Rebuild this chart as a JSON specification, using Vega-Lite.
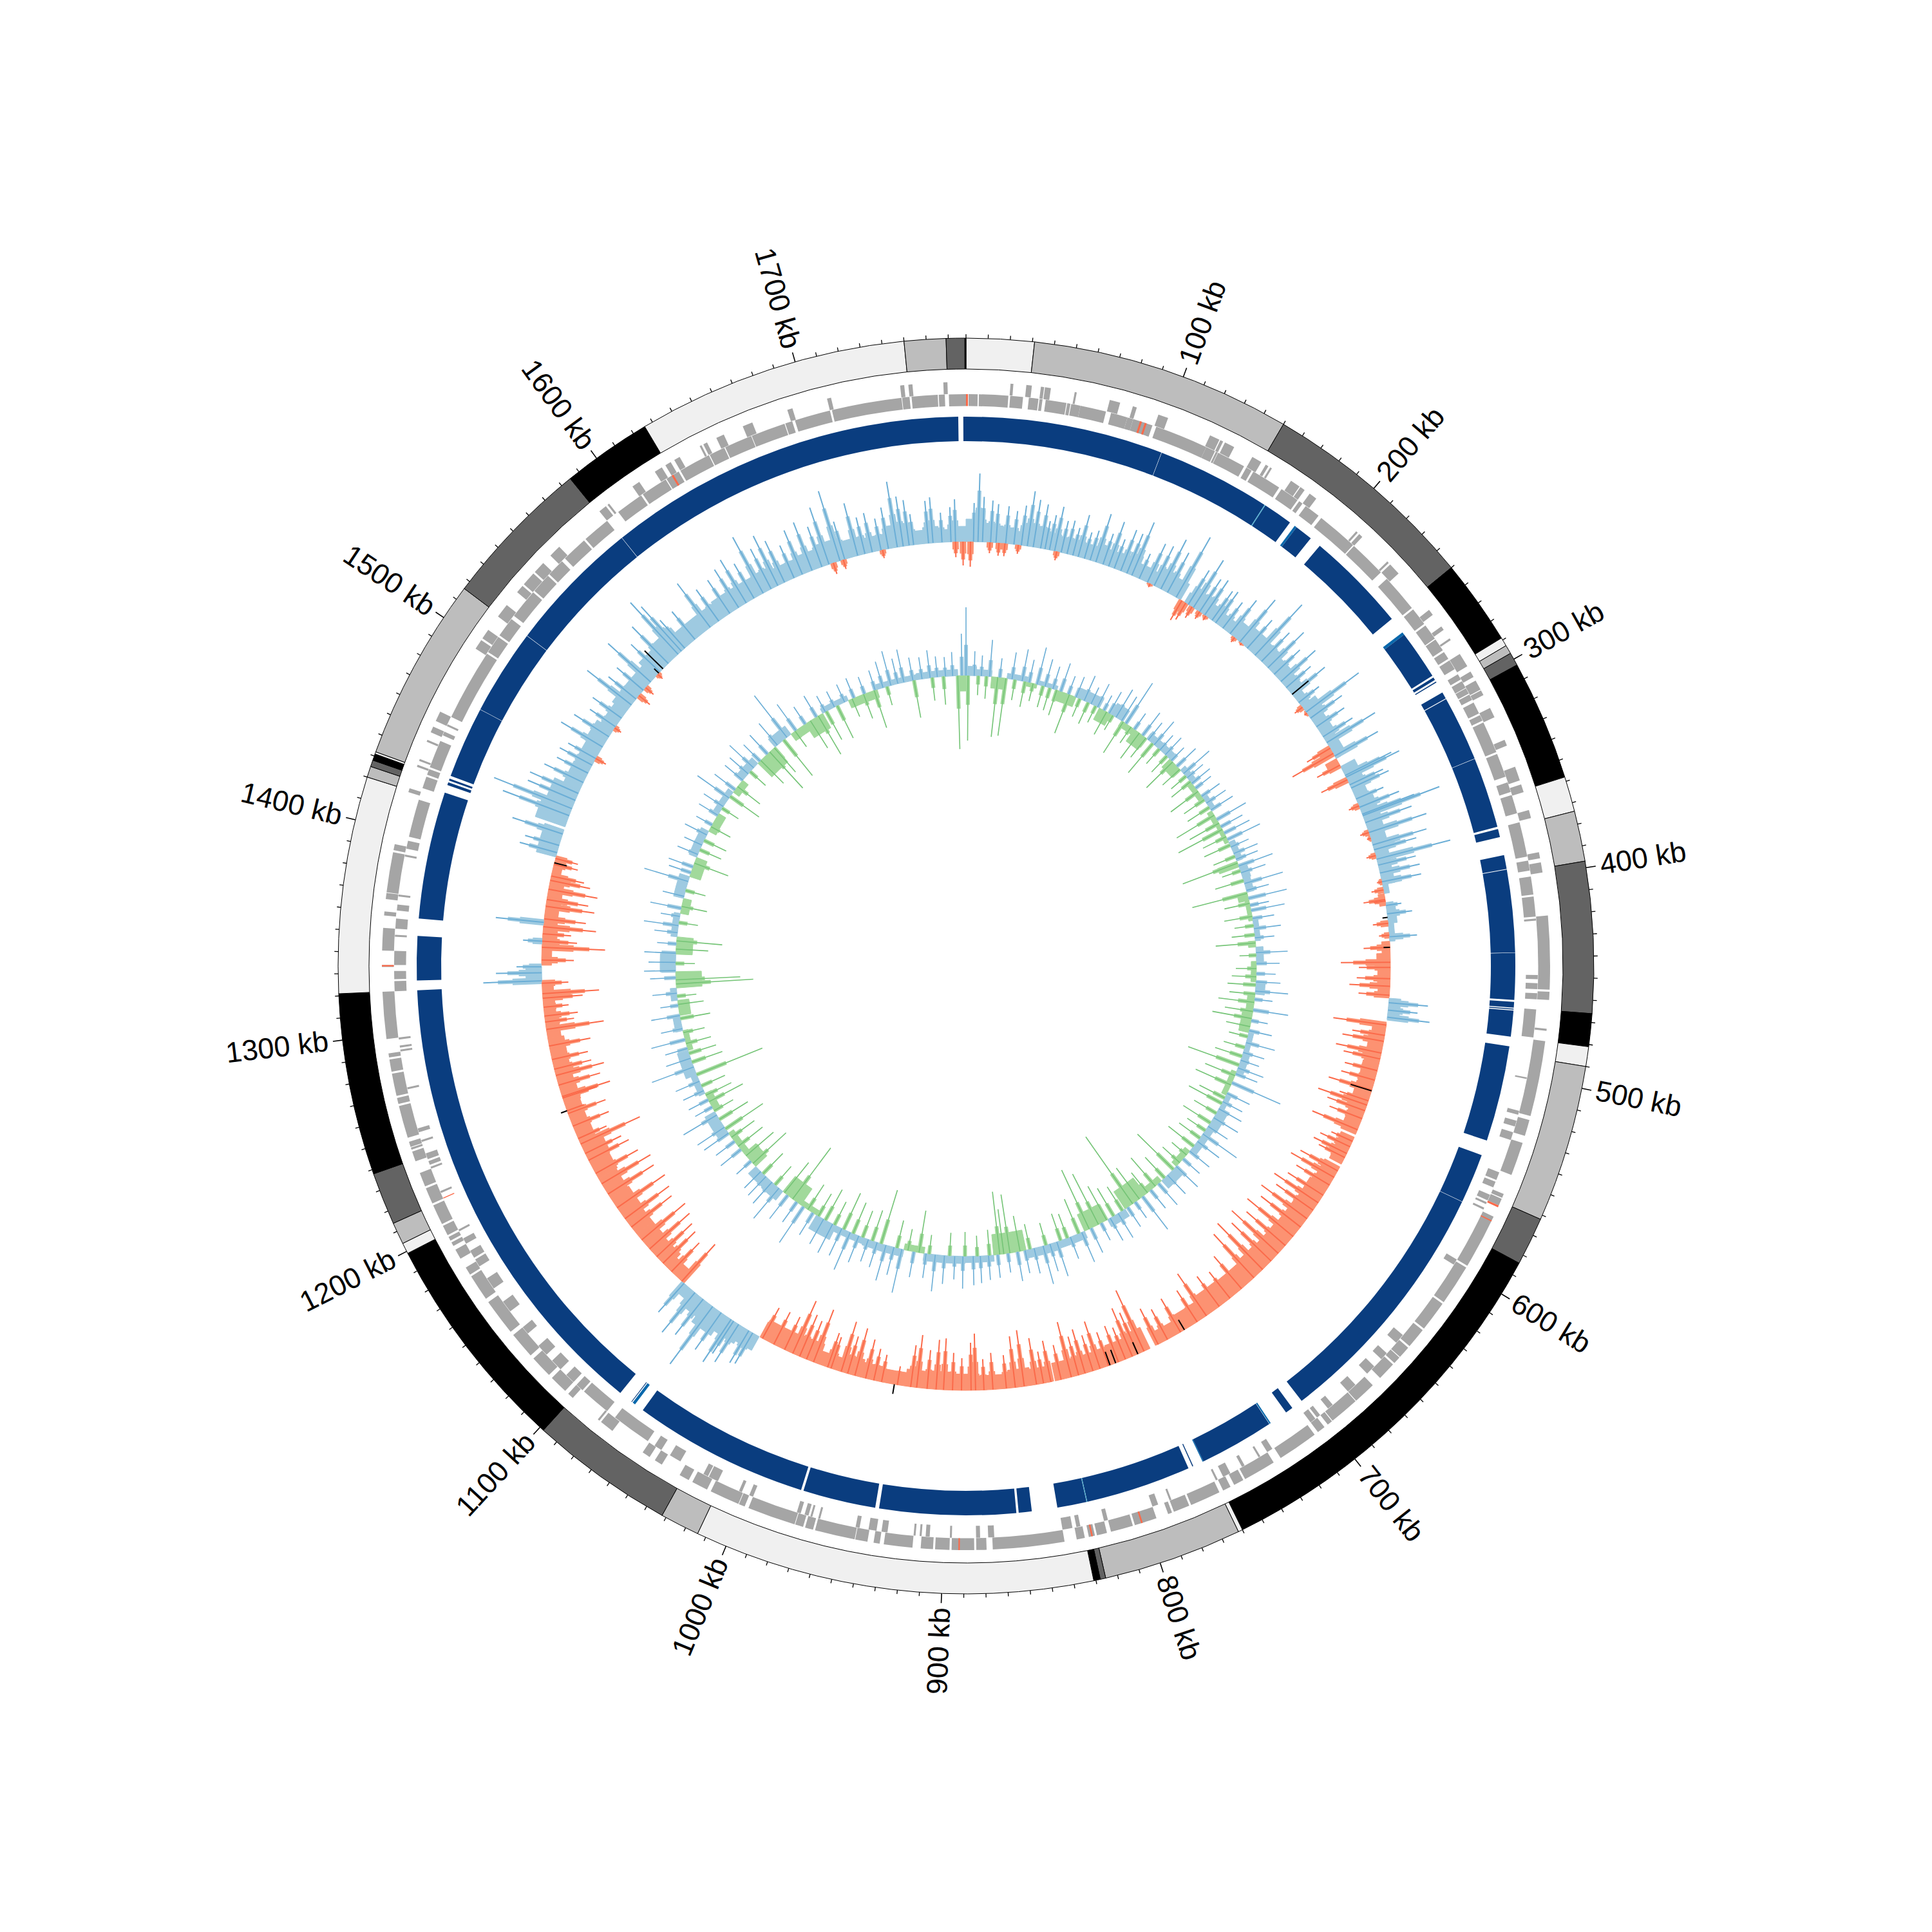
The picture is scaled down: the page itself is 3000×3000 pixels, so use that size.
{"$schema":"https://vega.github.io/schema/vega-lite/v6.json","width":3000,"height":3000,"padding":0,"autosize":{"type":"fit","contains":"padding"},"background":"white","view":{"stroke":null},
"datasets":{
"ring":[{"a":0,"b":31,"c":"l"},{"a":31,"b":150,"c":"g"},{"a":150,"b":250,"c":"d"},{"a":250,"b":289,"c":"k"},{"a":289,"b":293,"c":"l"},{"a":293,"b":297,"c":"g"},{"a":297,"b":303,"c":"d"},{"a":303,"b":358,"c":"k"},{"a":358,"b":374,"c":"l"},{"a":374,"b":397,"c":"g"},{"a":397,"b":466,"c":"d"},{"a":466,"b":481,"c":"k"},{"a":481,"b":490,"c":"l"},{"a":490,"b":562,"c":"g"},{"a":562,"b":584,"c":"d"},{"a":584,"b":760,"c":"k"},{"a":760,"b":762,"c":"l"},{"a":762,"b":825.5,"c":"g"},{"a":825.5,"b":828,"c":"d"},{"a":828,"b":831,"c":"k"},{"a":831,"b":1014,"c":"l"},{"a":1014,"b":1032,"c":"g"},{"a":1032,"b":1098,"c":"d"},{"a":1098,"b":1199,"c":"k"},{"a":1199,"b":1204,"c":"l"},{"a":1204,"b":1214,"c":"g"},{"a":1214,"b":1238,"c":"d"},{"a":1238,"b":1321,"c":"k"},{"a":1321,"b":1420,"c":"l"},{"a":1420,"b":1425,"c":"g"},{"a":1425,"b":1428,"c":"d"},{"a":1428,"b":1431,"c":"k"},{"a":1431,"b":1432,"c":"l"},{"a":1432,"b":1516,"c":"g"},{"a":1516,"b":1585,"c":"d"},{"a":1585,"b":1626,"c":"k"},{"a":1626,"b":1750,"c":"l"},{"a":1750,"b":1769,"c":"g"},{"a":1769,"b":1777.5,"c":"d"},{"a":1777.5,"b":1778,"c":"k"}],
"band":[{"a":1776.6,"b":1778,"c":"b"},{"a":0,"b":102.9,"c":"b"},{"a":103.1,"b":162.6,"c":"b"},{"a":162.6,"b":163.1,"c":"t"},{"a":163.1,"b":178.5,"c":"b"},{"a":181.5,"b":182.7,"c":"m"},{"a":182.7,"b":192,"c":"b"},{"a":198,"b":251,"c":"b"},{"a":259.8,"b":261.3,"c":"m"},{"a":261.3,"b":287,"c":"b"},{"a":288,"b":289.5,"c":"b"},{"a":290.5,"b":291,"c":"b"},{"a":297,"b":300.5,"c":"b"},{"a":300.9,"b":334.9,"c":"b"},{"a":335.1,"b":372,"c":"b"},{"a":373.2,"b":377.4,"c":"b"},{"a":387,"b":394.2,"c":"b"},{"a":394.6,"b":437.5,"c":"b"},{"a":437.7,"b":462,"c":"b"},{"a":463,"b":466,"c":"b"},{"a":466.5,"b":467,"c":"b"},{"a":467.5,"b":481,"c":"b"},{"a":486,"b":536,"c":"b"},{"a":544,"b":569.9,"c":"b"},{"a":570.1,"b":703,"c":"b"},{"a":709,"b":713,"c":"b"},{"a":722.6,"b":723.3,"c":"m"},{"a":723.5,"b":762.5,"c":"b"},{"a":762.5,"b":763,"c":"m"},{"a":768.3,"b":768.8,"c":"b"},{"a":771,"b":826,"c":"b"},{"a":826,"b":826.4,"c":"t"},{"a":826.4,"b":841.7,"c":"b"},{"a":855,"b":861.8,"c":"b"},{"a":863,"b":934,"c":"b"},{"a":936,"b":974,"c":"b"},{"a":975.3,"b":1067,"c":"b"},{"a":1072,"b":1073.5,"c":"m"},{"a":1074,"b":1074.4,"c":"b"},{"a":1081.6,"b":1321,"c":"b"},{"a":1326,"b":1349,"c":"b"},{"a":1358,"b":1424.4,"c":"b"},{"a":1428.5,"b":1430,"c":"b"},{"a":1431,"b":1432,"c":"b"},{"a":1433.5,"b":1470.9,"c":"b"},{"a":1471.1,"b":1515.9,"c":"b"},{"a":1516.1,"b":1586.3,"c":"b"},{"a":1586.5,"b":1774,"c":"b"}],
"geneIn":[{"a":1.3,"b":5.8},{"a":6.4,"b":21},{"a":21.9,"b":28.3},{"a":31.2,"b":36},{"a":36.5,"b":38},{"a":39.6,"b":50},{"a":50.4,"b":52},{"a":52.4,"b":57},{"a":57,"b":70},{"a":72.6,"b":81},{"a":81,"b":84},{"a":84,"b":94},{"a":96,"b":122.7},{"a":122.7,"b":127.5},{"a":128,"b":129},{"a":129.2,"b":143.7},{"a":145,"b":148},{"a":149,"b":164},{"a":165.4,"b":175},{"a":176,"b":178},{"a":180,"b":188},{"a":189.7,"b":210.4},{"a":211,"b":229.7},{"a":234,"b":253},{"a":254,"b":263},{"a":264,"b":272},{"a":272.5,"b":279},{"a":280,"b":284},{"a":285,"b":290},{"a":293,"b":296},{"a":297,"b":300.7},{"a":301,"b":304},{"a":304.5,"b":307.5},{"a":309,"b":315},{"a":316,"b":319},{"a":320,"b":336},{"a":337,"b":349},{"a":352,"b":357},{"a":358.6,"b":368},{"a":372.6,"b":390},{"a":392,"b":397},{"a":400,"b":409},{"a":410,"b":420},{"a":421,"b":422},{"a":449,"b":451},{"a":453,"b":456},{"a":458,"b":461},{"a":466,"b":480},{"a":500,"b":500.8},{"a":517,"b":519},{"a":522,"b":525},{"a":528,"b":532},{"a":549,"b":553},{"a":554,"b":557},{"a":561,"b":564},{"a":565,"b":566},{"a":568,"b":569},{"a":597,"b":600},{"a":643,"b":648},{"a":655,"b":659},{"a":664,"b":669},{"a":677,"b":682},{"a":692,"b":695},{"a":700,"b":702},{"a":703,"b":706},{"a":729,"b":732},{"a":736,"b":737},{"a":745,"b":746.5},{"a":753,"b":757},{"a":760,"b":761},{"a":785,"b":786},{"a":792,"b":795},{"a":818,"b":820},{"a":832,"b":834},{"a":836,"b":841},{"a":875,"b":878},{"a":882,"b":884},{"a":896,"b":897},{"a":907,"b":909},{"a":911,"b":912},{"a":914,"b":915},{"a":928,"b":931},{"a":933.5,"b":937.5},{"a":942,"b":944},{"a":962,"b":963},{"a":966,"b":967},{"a":968,"b":970},{"a":972,"b":974},{"a":997,"b":999},{"a":1003,"b":1004.5},{"a":1016,"b":1021},{"a":1021.5,"b":1024},{"a":1037,"b":1043},{"a":1048,"b":1052},{"a":1056,"b":1076},{"a":1081,"b":1096},{"a":1097,"b":1101},{"a":1103,"b":1108},{"a":1112,"b":1118},{"a":1122,"b":1128},{"a":1136,"b":1140},{"a":1150,"b":1156},{"a":1164,"b":1170},{"a":1177,"b":1181},{"a":1182,"b":1186},{"a":1190,"b":1193},{"a":1197,"b":1198},{"a":1218,"b":1219},{"a":1231,"b":1232},{"a":1233,"b":1235},{"a":1236,"b":1239},{"a":1245,"b":1246},{"a":1250,"b":1252},{"a":1272,"b":1273},{"a":1291,"b":1292},{"a":1293,"b":1294},{"a":1297,"b":1298},{"a":1321,"b":1326},{"a":1327,"b":1331},{"a":1334,"b":1341},{"a":1348,"b":1349},{"a":1352,"b":1357},{"a":1361,"b":1364},{"a":1368,"b":1369},{"a":1388,"b":1389},{"a":1392,"b":1396},{"a":1398,"b":1417},{"a":1423,"b":1429},{"a":1430,"b":1433},{"a":1434,"b":1448},{"a":1451,"b":1453},{"a":1456,"b":1457},{"a":1461,"b":1497},{"a":1498,"b":1507},{"a":1508,"b":1518},{"a":1520,"b":1535},{"a":1536,"b":1546},{"a":1547,"b":1556},{"a":1558,"b":1571},{"a":1572,"b":1586},{"a":1593,"b":1607},{"a":1608,"b":1621.5},{"a":1622,"b":1629},{"a":1630,"b":1646},{"a":1646.5,"b":1654.5},{"a":1655,"b":1669},{"a":1669.3,"b":1686.6},{"a":1687,"b":1690.6},{"a":1692,"b":1710},{"a":1711,"b":1746},{"a":1746.3,"b":1750},{"a":1751,"b":1764},{"a":1764.5,"b":1767.5},{"a":1769.5,"b":1778},{"a":0,"b":1,"c":"r"},{"a":87.5,"b":88.5,"c":"r"},{"a":90,"b":91,"c":"r"},{"a":1215,"b":1215.5,"c":"r"},{"a":1625,"b":1626,"c":"r"}],
"geneOut":[{"a":21.6,"b":23},{"a":29.3,"b":32},{"a":36.4,"b":38},{"a":38.4,"b":41.3},{"a":53,"b":54},{"a":70.4,"b":75.6},{"a":82,"b":84},{"a":95,"b":100},{"a":122,"b":127},{"a":127.5,"b":129},{"a":130,"b":135},{"a":145,"b":150},{"a":152.5,"b":154},{"a":155,"b":156},{"a":167,"b":172},{"a":172.5,"b":175},{"a":178,"b":182},{"a":207,"b":208},{"a":209,"b":211},{"a":228,"b":229},{"a":230,"b":236},{"a":259,"b":262},{"a":269,"b":271},{"a":276,"b":277},{"a":285,"b":292},{"a":295,"b":298},{"a":300,"b":305},{"a":305.4,"b":308},{"a":315,"b":320},{"a":332,"b":335},{"a":346,"b":353},{"a":355,"b":359},{"a":368,"b":372},{"a":389,"b":392},{"a":394,"b":399},{"a":420,"b":456},{"a":457,"b":461},{"a":475,"b":476},{"a":481,"b":518},{"a":520,"b":528},{"a":531.6,"b":548},{"a":558,"b":560},{"a":560.5,"b":564},{"a":570,"b":597},{"a":598,"b":618},{"a":619,"b":634},{"a":635,"b":645},{"a":646,"b":652},{"a":652.4,"b":656},{"a":657,"b":666},{"a":671,"b":682},{"a":682.4,"b":697},{"a":697.4,"b":700},{"a":702,"b":706},{"a":708,"b":728},{"a":732,"b":748},{"a":749,"b":754},{"a":756,"b":760},{"a":762,"b":777},{"a":778,"b":786},{"a":787,"b":789},{"a":795,"b":806},{"a":807,"b":818},{"a":820,"b":825},{"a":826,"b":829},{"a":831,"b":835},{"a":841,"b":876},{"a":879,"b":884},{"a":885,"b":889},{"a":889,"b":896},{"a":897,"b":904},{"a":905,"b":911},{"a":915,"b":929},{"a":931,"b":934},{"a":937,"b":943},{"a":943.3,"b":963},{"a":964,"b":968},{"a":969,"b":973},{"a":973.3,"b":997},{"a":999,"b":1002},{"a":1002.3,"b":1017},{"a":1019,"b":1027},{"a":1029,"b":1034},{"a":1044,"b":1048},{"a":1051,"b":1055},{"a":1073,"b":1080},{"a":1081,"b":1082},{"a":1098,"b":1101},{"a":1103,"b":1112},{"a":1114,"b":1125},{"a":1127,"b":1140},{"a":1142,"b":1160},{"a":1162,"b":1175},{"a":1176,"b":1180},{"a":1185,"b":1190},{"a":1192,"b":1194},{"a":1195,"b":1197},{"a":1198,"b":1203},{"a":1204,"b":1214},{"a":1215,"b":1223},{"a":1224,"b":1231},{"a":1237,"b":1242},{"a":1243,"b":1244},{"a":1244.4,"b":1247},{"a":1249,"b":1265},{"a":1266,"b":1269},{"a":1270,"b":1281},{"a":1282,"b":1288},{"a":1289,"b":1291},{"a":1298,"b":1321},{"a":1333,"b":1334},{"a":1341,"b":1352},{"a":1358,"b":1360},{"a":1366,"b":1369},{"a":1369.3,"b":1389},{"a":1390,"b":1393},{"a":1419,"b":1421},{"a":1432,"b":1433},{"a":1435,"b":1436},{"a":1445,"b":1446},{"a":1450,"b":1453},{"a":1456,"b":1461},{"a":1496,"b":1501},{"a":1502,"b":1507},{"a":1515,"b":1522},{"a":1530,"b":1534},{"a":1535,"b":1542},{"a":1543,"b":1549},{"a":1554,"b":1560},{"a":1586,"b":1590},{"a":1591,"b":1592},{"a":1606,"b":1610},{"a":1619,"b":1623},{"a":1625,"b":1628},{"a":1630,"b":1633},{"a":1644,"b":1645},{"a":1646,"b":1648},{"a":1653,"b":1657},{"a":1667,"b":1672},{"a":1690,"b":1692.6},{"a":1710,"b":1712},{"a":1746,"b":1748},{"a":1750,"b":1752},{"a":1767,"b":1769},{"a":564,"b":565,"c":"r"},{"a":572,"b":572.6,"c":"r"},{"a":802,"b":802.8,"c":"r"},{"a":827,"b":827.8,"c":"r"},{"a":892,"b":892.7,"c":"r"},{"a":1333.3,"b":1334,"c":"r"}],
"f3":[{"a":0,"b":6,"v":50},{"a":6,"b":12,"v":70},{"a":12,"b":18,"v":42},{"a":18,"b":24,"v":38},{"a":24,"b":30,"v":36},{"a":30,"b":36,"v":30},{"a":36,"b":44,"v":50},{"a":44,"b":50,"v":48},{"a":50,"b":56,"v":40},{"a":56,"b":62,"v":38},{"a":62,"b":70,"v":32},{"a":70,"b":78,"v":36},{"a":78,"b":86,"v":34},{"a":86,"b":92,"v":42},{"a":92,"b":100,"v":36},{"a":100,"b":108,"v":38},{"a":108,"b":116,"v":48},{"a":116,"b":124,"v":32},{"a":124,"b":130,"v":30},{"a":130,"b":140,"v":45},{"a":140,"b":150,"v":40},{"a":150,"b":153,"v":-15},{"a":153,"b":160,"v":25},{"a":160,"b":170,"v":40},{"a":170,"b":180,"v":32},{"a":180,"b":190,"v":28},{"a":190,"b":200,"v":38},{"a":200,"b":212,"v":45},{"a":212,"b":224,"v":42},{"a":224,"b":236,"v":35},{"a":236,"b":248,"v":32},{"a":248,"b":258,"v":22},{"a":258,"b":270,"v":38},{"a":270,"b":285,"v":30},{"a":285,"b":296,"v":26},{"a":296,"b":300,"v":12},{"a":300,"b":306,"v":-28},{"a":306,"b":318,"v":35},{"a":318,"b":330,"v":30},{"a":330,"b":345,"v":38},{"a":345,"b":356,"v":36},{"a":356,"b":368,"v":34},{"a":368,"b":378,"v":30},{"a":378,"b":390,"v":28},{"a":390,"b":396,"v":12},{"a":396,"b":404,"v":-14},{"a":404,"b":416,"v":20},{"a":416,"b":428,"v":12},{"a":428,"b":436,"v":-18},{"a":436,"b":446,"v":-30},{"a":446,"b":456,"v":-28},{"a":456,"b":465,"v":-26},{"a":466,"b":480,"v":26},{"a":483,"b":495,"v":-30},{"a":495,"b":510,"v":-34},{"a":510,"b":525,"v":-36},{"a":525,"b":540,"v":-38},{"a":540,"b":560,"v":-36},{"a":562,"b":575,"v":-32},{"a":575,"b":582,"v":-30},{"a":584,"b":600,"v":-38},{"a":600,"b":620,"v":-46},{"a":620,"b":640,"v":-48},{"a":640,"b":660,"v":-50},{"a":660,"b":680,"v":-52},{"a":680,"b":700,"v":-48},{"a":700,"b":720,"v":-50},{"a":720,"b":740,"v":-40},{"a":740,"b":756,"v":-30},{"a":762,"b":775,"v":-52},{"a":775,"b":790,"v":-45},{"a":790,"b":800,"v":-42},{"a":800,"b":815,"v":-40},{"a":815,"b":829,"v":-40},{"a":831,"b":845,"v":-36},{"a":845,"b":860,"v":-40},{"a":860,"b":880,"v":-32},{"a":880,"b":900,"v":-36},{"a":900,"b":915,"v":-40},{"a":915,"b":930,"v":-38},{"a":930,"b":945,"v":-30},{"a":945,"b":960,"v":-34},{"a":960,"b":975,"v":-40},{"a":975,"b":990,"v":-30},{"a":990,"b":1010,"v":-46},{"a":1010,"b":1032,"v":-44},{"a":1033,"b":1045,"v":35},{"a":1045,"b":1060,"v":42},{"a":1060,"b":1075,"v":55},{"a":1075,"b":1088,"v":40},{"a":1088,"b":1094,"v":25},{"a":1096,"b":1110,"v":-30},{"a":1110,"b":1125,"v":-42},{"a":1125,"b":1140,"v":-45},{"a":1140,"b":1155,"v":-45},{"a":1155,"b":1170,"v":-48},{"a":1170,"b":1185,"v":-45},{"a":1185,"b":1198,"v":-48},{"a":1198,"b":1212,"v":-52},{"a":1212,"b":1225,"v":-38},{"a":1225,"b":1240,"v":-36},{"a":1240,"b":1255,"v":-38},{"a":1255,"b":1270,"v":-36},{"a":1270,"b":1285,"v":-36},{"a":1285,"b":1300,"v":-30},{"a":1300,"b":1315,"v":-26},{"a":1315,"b":1323,"v":-25},{"a":1324,"b":1333,"v":35},{"a":1334,"b":1345,"v":-22},{"a":1345,"b":1360,"v":-32},{"a":1360,"b":1375,"v":-30},{"a":1375,"b":1390,"v":-32},{"a":1390,"b":1404,"v":-20},{"a":1407,"b":1426,"v":45},{"a":1428,"b":1440,"v":70},{"a":1440,"b":1455,"v":62},{"a":1455,"b":1470,"v":40},{"a":1470,"b":1485,"v":38},{"a":1485,"b":1500,"v":42},{"a":1500,"b":1515,"v":32},{"a":1515,"b":1530,"v":38},{"a":1530,"b":1545,"v":38},{"a":1545,"b":1560,"v":48},{"a":1560,"b":1575,"v":55},{"a":1575,"b":1590,"v":40},{"a":1590,"b":1605,"v":40},{"a":1605,"b":1620,"v":44},{"a":1620,"b":1635,"v":44},{"a":1635,"b":1650,"v":46},{"a":1650,"b":1665,"v":38},{"a":1665,"b":1680,"v":42},{"a":1680,"b":1695,"v":50},{"a":1695,"b":1710,"v":40},{"a":1710,"b":1725,"v":34},{"a":1725,"b":1740,"v":50},{"a":1740,"b":1750,"v":30},{"a":1750,"b":1760,"v":36},{"a":1760,"b":1768,"v":28},{"a":1770,"b":1778,"v":34}],
"s3":[{"k":8,"v":106},{"k":5,"v":60},{"k":11,"v":70},{"k":16.4,"v":65},{"k":20,"v":60},{"k":26.5,"v":58},{"k":32,"v":52},{"k":37,"v":62},{"k":41,"v":86},{"k":45,"v":74},{"k":50,"v":69},{"k":53,"v":44},{"k":56,"v":55},{"k":59.5,"v":70},{"k":64,"v":50},{"k":68,"v":53},{"k":72,"v":44},{"k":75.7,"v":67},{"k":80,"v":42},{"k":84,"v":48},{"k":88,"v":78},{"k":93,"v":50},{"k":97,"v":73},{"k":101,"v":48},{"k":105.6,"v":68},{"k":110,"v":66},{"k":113.6,"v":89},{"k":119,"v":42},{"k":125,"v":66},{"k":130,"v":68},{"k":135,"v":86},{"k":140,"v":70},{"k":146.6,"v":107},{"k":156,"v":62},{"k":160,"v":87},{"k":165,"v":60},{"k":169,"v":65},{"k":175,"v":55},{"k":178,"v":59},{"k":184,"v":50},{"k":190,"v":66},{"k":198.5,"v":85},{"k":205,"v":58},{"k":212,"v":107},{"k":218,"v":62},{"k":224,"v":78},{"k":230,"v":55},{"k":236.6,"v":72},{"k":242,"v":50},{"k":248,"v":66},{"k":255,"v":40},{"k":263,"v":102},{"k":268,"v":60},{"k":275,"v":52},{"k":283,"v":54},{"k":287.6,"v":88},{"k":298,"v":77},{"k":312.7,"v":80},{"k":314,"v":92},{"k":319.7,"v":57},{"k":322,"v":64},{"k":330,"v":46},{"k":336,"v":66},{"k":342,"v":127},{"k":341,"v":86},{"k":347,"v":76},{"k":354,"v":94},{"k":362.6,"v":87},{"k":366,"v":68},{"k":372.5,"v":118},{"k":376.6,"v":60},{"k":382,"v":63},{"k":388,"v":62},{"k":404,"v":24},{"k":409.6,"v":39},{"k":425,"v":43},{"k":469,"v":61},{"k":474,"v":46},{"k":478.7,"v":66},{"k":1038,"v":55},{"k":1041,"v":58},{"k":1049,"v":69},{"k":1053,"v":60},{"k":1055,"v":79},{"k":1063,"v":70},{"k":1070,"v":111},{"k":1078,"v":70},{"k":1085,"v":80},{"k":1094.6,"v":60},{"k":1323.6,"v":91},{"k":1329,"v":71},{"k":1333,"v":39},{"k":1362.6,"v":75},{"k":1350,"v":30},{"k":1423,"v":82},{"k":1415,"v":55},{"k":1410,"v":60},{"k":1436,"v":110},{"k":1441,"v":130},{"k":1447,"v":80},{"k":1452,"v":82},{"k":1460,"v":67},{"k":1467,"v":54},{"k":1473,"v":57},{"k":1478,"v":49},{"k":1487,"v":75},{"k":1495,"v":64},{"k":1503,"v":48},{"k":1510,"v":55},{"k":1521,"v":87},{"k":1526,"v":55},{"k":1533.6,"v":54},{"k":1541,"v":89},{"k":1550,"v":62},{"k":1558,"v":80},{"k":1567,"v":109},{"k":1570,"v":93},{"k":1573,"v":58},{"k":1582,"v":56},{"k":1595,"v":85},{"k":1602,"v":60},{"k":1611,"v":62},{"k":1618,"v":70},{"k":1624,"v":78},{"k":1630,"v":62},{"k":1637,"v":99},{"k":1643,"v":70},{"k":1648,"v":86},{"k":1653,"v":71},{"k":1660,"v":55},{"k":1666,"v":74},{"k":1673,"v":80},{"k":1680,"v":66},{"k":1685,"v":93},{"k":1692.7,"v":113},{"k":1696,"v":61},{"k":1705,"v":84},{"k":1710,"v":58},{"k":1715,"v":62},{"k":1721,"v":50},{"k":1726,"v":65},{"k":1732,"v":103},{"k":1736,"v":78},{"k":1740,"v":71},{"k":1743,"v":48},{"k":1753,"v":66},{"k":1756,"v":71},{"k":1762,"v":46},{"k":1768,"v":54},{"k":1771,"v":66},{"k":3,"v":-39},{"k":16,"v":-17},{"k":22,"v":-20},{"k":26,"v":-20},{"k":35,"v":-14},{"k":61,"v":-14},{"k":127,"v":-6},{"k":151,"v":-35},{"k":154,"v":-30},{"k":159,"v":-20},{"k":165,"v":-13},{"k":170,"v":-8},{"k":194,"v":-9},{"k":200,"v":-4},{"k":259,"v":-15},{"k":264,"v":-5},{"k":292,"v":-42},{"k":296,"v":-73},{"k":305,"v":-40},{"k":316,"v":-45},{"k":335,"v":-17},{"k":354,"v":-14},{"k":358,"v":-6},{"k":370,"v":-15},{"k":388,"v":-8},{"k":393.5,"v":-19},{"k":400,"v":-34},{"k":401,"v":-18},{"k":416,"v":-24},{"k":424,"v":-16},{"k":432,"v":-41},{"k":442,"v":-77},{"k":445.5,"v":-49},{"k":453,"v":-52},{"k":458,"v":-63},{"k":464,"v":-48},{"k":484,"v":-83},{"k":491,"v":-51},{"k":495,"v":-65},{"k":503,"v":-72},{"k":507,"v":-58},{"k":515,"v":-52},{"k":521.6,"v":-54},{"k":528.5,"v":-70},{"k":536,"v":-47},{"k":539,"v":-80},{"k":543,"v":-62},{"k":548.6,"v":-54},{"k":556.6,"v":-76},{"k":565,"v":-36},{"k":569,"v":-51},{"k":574,"v":-57},{"k":577,"v":-45},{"k":587,"v":-66},{"k":592,"v":-77},{"k":598,"v":-60},{"k":606,"v":-65},{"k":612,"v":-82},{"k":618,"v":-70},{"k":625,"v":-88},{"k":632,"v":-78},{"k":640,"v":-92},{"k":648,"v":-80},{"k":655,"v":-98},{"k":662,"v":-85},{"k":670,"v":-100},{"k":678,"v":-92},{"k":689,"v":-66},{"k":699,"v":-52},{"k":708,"v":-58},{"k":718.6,"v":-79},{"k":726,"v":-58},{"k":739,"v":-60},{"k":749,"v":-53},{"k":756,"v":-62},{"k":766.5,"v":-104},{"k":771,"v":-70},{"k":775,"v":-81},{"k":780,"v":-53},{"k":785,"v":-60},{"k":792,"v":-55},{"k":798,"v":-77},{"k":803,"v":-58},{"k":808.5,"v":-71},{"k":813,"v":-62},{"k":818,"v":-88},{"k":825,"v":-55},{"k":832,"v":-65},{"k":837,"v":-50},{"k":841.7,"v":-73},{"k":850,"v":-88},{"k":856,"v":-80},{"k":862,"v":-52},{"k":871,"v":-57},{"k":877,"v":-48},{"k":882.6,"v":-88},{"k":885.6,"v":-74},{"k":892,"v":-50},{"k":898,"v":-58},{"k":904,"v":-80},{"k":909,"v":-77},{"k":915,"v":-60},{"k":922,"v":-82},{"k":926,"v":-65},{"k":935,"v":-29},{"k":945.7,"v":-43},{"k":951,"v":-50},{"k":956.6,"v":-62},{"k":964,"v":-76},{"k":969,"v":-60},{"k":973.5,"v":-81},{"k":980.6,"v":-51},{"k":983,"v":-56},{"k":993,"v":-87},{"k":998,"v":-64},{"k":1003,"v":-70},{"k":1008,"v":-89},{"k":1014,"v":-56},{"k":1022,"v":-56},{"k":1030.5,"v":-54},{"k":1096.6,"v":-77},{"k":1106,"v":-62},{"k":1114,"v":-70},{"k":1120,"v":-75},{"k":1127,"v":-83},{"k":1135,"v":-88},{"k":1146,"v":-79},{"k":1153,"v":-85},{"k":1162,"v":-90},{"k":1173,"v":-84},{"k":1181,"v":-88},{"k":1189,"v":-75},{"k":1199,"v":-70},{"k":1204,"v":-62},{"k":1211,"v":-101},{"k":1215,"v":-48},{"k":1224,"v":-60},{"k":1233,"v":-62},{"k":1235,"v":-28},{"k":1244,"v":-56},{"k":1245,"v":-78},{"k":1253,"v":-67},{"k":1259.7,"v":-77},{"k":1264,"v":-59},{"k":1270.6,"v":-57},{"k":1279.8,"v":-65},{"k":1291,"v":-90},{"k":1296,"v":-45},{"k":1300,"v":-52},{"k":1306,"v":-39},{"k":1312,"v":-62},{"k":1315,"v":-88},{"k":1322,"v":-41},{"k":1337.5,"v":-50},{"k":1346,"v":-98},{"k":1350,"v":-54},{"k":1355,"v":-44},{"k":1359.7,"v":-82},{"k":1365,"v":-65},{"k":1373.5,"v":-76},{"k":1378,"v":-65},{"k":1385,"v":-77},{"k":1391,"v":-63},{"k":1394,"v":-52},{"k":1402,"v":-38},{"k":1406,"v":-36},{"k":1695,"v":-15},{"k":1688,"v":-18},{"k":1722,"v":-13},{"k":1771,"v":-24},{"k":1776,"v":-37},{"k":1502,"v":-12},{"k":1478,"v":-18},{"k":1529,"v":-22},{"k":1536,"v":-16},{"k":1548,"v":-10}],
"s3k":[{"k":248,"v":33},{"k":529,"v":-34},{"k":412,"v":-8},{"k":432,"v":-10},{"k":736,"v":-18},{"k":771,"v":-20},{"k":787,"v":-22},{"k":791,"v":-22},{"k":937,"v":15},{"k":1403,"v":-20},{"k":1235,"v":10},{"k":1553,"v":40},{"k":1549,"v":10}],
"f4":[{"a":1770,"b":1778,"v":-30},{"a":0,"b":10,"v":18},{"a":10,"b":25,"v":12},{"a":25,"b":40,"v":-22},{"a":40,"b":60,"v":10},{"a":60,"b":70,"v":-8},{"a":70,"b":90,"v":8},{"a":90,"b":110,"v":-20},{"a":110,"b":135,"v":20},{"a":135,"b":148,"v":-25},{"a":148,"b":160,"v":25},{"a":160,"b":175,"v":-12},{"a":175,"b":190,"v":-28},{"a":190,"b":205,"v":14},{"a":205,"b":220,"v":14},{"a":220,"b":235,"v":-22},{"a":235,"b":250,"v":12},{"a":250,"b":270,"v":-10},{"a":270,"b":285,"v":10},{"a":285,"b":300,"v":-10},{"a":300,"b":320,"v":-8},{"a":320,"b":340,"v":12},{"a":340,"b":346,"v":-40},{"a":346,"b":358,"v":16},{"a":358,"b":372,"v":14},{"a":372,"b":380,"v":-20},{"a":380,"b":400,"v":-8},{"a":400,"b":420,"v":10},{"a":420,"b":426,"v":-14},{"a":426,"b":440,"v":14},{"a":440,"b":460,"v":-10},{"a":460,"b":472,"v":18},{"a":472,"b":490,"v":-14},{"a":490,"b":510,"v":-20},{"a":510,"b":530,"v":10},{"a":530,"b":550,"v":14},{"a":550,"b":575,"v":-10},{"a":575,"b":590,"v":10},{"a":590,"b":610,"v":20},{"a":610,"b":640,"v":14},{"a":640,"b":660,"v":-12},{"a":660,"b":680,"v":20},{"a":680,"b":700,"v":-12},{"a":700,"b":725,"v":-40},{"a":725,"b":745,"v":16},{"a":745,"b":770,"v":-35},{"a":770,"b":800,"v":14},{"a":800,"b":830,"v":16},{"a":830,"b":862,"v":-40},{"a":862,"b":890,"v":12},{"a":890,"b":930,"v":14},{"a":930,"b":950,"v":-12},{"a":950,"b":990,"v":14},{"a":990,"b":1020,"v":12},{"a":1020,"b":1042,"v":30},{"a":1042,"b":1060,"v":-10},{"a":1060,"b":1082,"v":-38},{"a":1082,"b":1100,"v":22},{"a":1100,"b":1118,"v":20},{"a":1118,"b":1135,"v":-30},{"a":1135,"b":1160,"v":-12},{"a":1160,"b":1185,"v":22},{"a":1185,"b":1205,"v":-14},{"a":1205,"b":1225,"v":12},{"a":1225,"b":1250,"v":22},{"a":1250,"b":1270,"v":-10},{"a":1270,"b":1285,"v":14},{"a":1285,"b":1300,"v":-22},{"a":1300,"b":1312,"v":12},{"a":1312,"b":1328,"v":-50},{"a":1328,"b":1345,"v":30},{"a":1345,"b":1362,"v":-32},{"a":1362,"b":1385,"v":12},{"a":1385,"b":1400,"v":-16},{"a":1400,"b":1422,"v":20},{"a":1422,"b":1442,"v":-22},{"a":1442,"b":1470,"v":16},{"a":1470,"b":1490,"v":-16},{"a":1490,"b":1515,"v":12},{"a":1515,"b":1530,"v":-14},{"a":1530,"b":1552,"v":16},{"a":1552,"b":1575,"v":-38},{"a":1575,"b":1595,"v":20},{"a":1595,"b":1612,"v":-16},{"a":1612,"b":1632,"v":-32},{"a":1632,"b":1660,"v":10},{"a":1660,"b":1690,"v":-16},{"a":1690,"b":1730,"v":10},{"a":1730,"b":1770,"v":12}],
"s4":[{"k":0,"v":106},{"k":1774,"v":65},{"k":23,"v":57},{"k":8,"v":38},{"k":15,"v":32},{"k":33,"v":30},{"k":45,"v":42},{"k":55,"v":50},{"k":62,"v":36},{"k":70,"v":59},{"k":78,"v":44},{"k":86,"v":36},{"k":94,"v":46},{"k":102,"v":30},{"k":110,"v":34},{"k":118.6,"v":42},{"k":126,"v":28},{"k":133,"v":40},{"k":140,"v":26},{"k":146,"v":38},{"k":153.6,"v":50},{"k":160,"v":44},{"k":165,"v":75},{"k":175,"v":30},{"k":185,"v":44},{"k":192,"v":34},{"k":199.5,"v":47},{"k":207,"v":30},{"k":214,"v":36},{"k":222,"v":28},{"k":230,"v":40},{"k":239.6,"v":53},{"k":245,"v":32},{"k":252,"v":36},{"k":258,"v":30},{"k":268,"v":34},{"k":276,"v":36},{"k":284,"v":40},{"k":295,"v":52},{"k":303,"v":38},{"k":310,"v":44},{"k":317,"v":56},{"k":325,"v":30},{"k":332,"v":40},{"k":338,"v":36},{"k":345,"v":56},{"k":352,"v":40},{"k":363,"v":62},{"k":370,"v":36},{"k":378,"v":61},{"k":385,"v":30},{"k":390,"v":53},{"k":398,"v":34},{"k":408,"v":42},{"k":417,"v":30},{"k":431.5,"v":49},{"k":442,"v":36},{"k":452,"v":30},{"k":460,"v":38},{"k":469,"v":51},{"k":477,"v":28},{"k":487.5,"v":55},{"k":498,"v":26},{"k":508,"v":36},{"k":520,"v":46},{"k":530,"v":34},{"k":538,"v":30},{"k":546,"v":42},{"k":552,"v":36},{"k":561.6,"v":82},{"k":573,"v":39},{"k":582,"v":34},{"k":590,"v":40},{"k":600,"v":44},{"k":610,"v":36},{"k":619,"v":64},{"k":628,"v":42},{"k":640,"v":39},{"k":650,"v":34},{"k":660,"v":46},{"k":672,"v":40},{"k":684,"v":44},{"k":694,"v":36},{"k":704,"v":64},{"k":713,"v":30},{"k":722,"v":36},{"k":733,"v":44},{"k":742,"v":40},{"k":752,"v":30},{"k":763,"v":42},{"k":773,"v":50},{"k":785,"v":36},{"k":799,"v":56},{"k":806,"v":44},{"k":813,"v":61},{"k":822,"v":40},{"k":831,"v":36},{"k":838.6,"v":46},{"k":848,"v":30},{"k":858,"v":36},{"k":867,"v":38},{"k":875,"v":42},{"k":882,"v":45},{"k":892,"v":50},{"k":900,"v":36},{"k":910,"v":44},{"k":919,"v":57},{"k":928,"v":38},{"k":940,"v":40},{"k":952,"v":69},{"k":960,"v":44},{"k":968,"v":57},{"k":977,"v":40},{"k":986,"v":36},{"k":996,"v":44},{"k":1005,"v":63},{"k":1014,"v":46},{"k":1024,"v":50},{"k":1034,"v":44},{"k":1046,"v":40},{"k":1057,"v":67},{"k":1065,"v":38},{"k":1076,"v":46},{"k":1087,"v":61},{"k":1096,"v":44},{"k":1104,"v":40},{"k":1111,"v":36},{"k":1125,"v":30},{"k":1140,"v":40},{"k":1150,"v":36},{"k":1160,"v":46},{"k":1167,"v":50},{"k":1181,"v":60},{"k":1190,"v":30},{"k":1198,"v":34},{"k":1208,"v":35},{"k":1218,"v":40},{"k":1233,"v":69},{"k":1242,"v":40},{"k":1252,"v":36},{"k":1261,"v":54},{"k":1272,"v":34},{"k":1285,"v":45},{"k":1295,"v":28},{"k":1307,"v":38},{"k":1322,"v":40},{"k":1329,"v":49},{"k":1337,"v":42},{"k":1346,"v":49},{"k":1355,"v":30},{"k":1366,"v":36},{"k":1373,"v":54},{"k":1382,"v":30},{"k":1390,"v":49},{"k":1402,"v":34},{"k":1417,"v":71},{"k":1426,"v":36},{"k":1432,"v":40},{"k":1445,"v":34},{"k":1455,"v":30},{"k":1466,"v":38},{"k":1477,"v":28},{"k":1488,"v":34},{"k":1498,"v":36},{"k":1508,"v":60},{"k":1518,"v":40},{"k":1530,"v":36},{"k":1538,"v":38},{"k":1546,"v":51},{"k":1555,"v":36},{"k":1565,"v":40},{"k":1578,"v":44},{"k":1590,"v":82},{"k":1601,"v":50},{"k":1612,"v":32},{"k":1625,"v":38},{"k":1635,"v":28},{"k":1645,"v":27},{"k":1656,"v":30},{"k":1666,"v":33},{"k":1677,"v":28},{"k":1688,"v":32},{"k":1696,"v":42},{"k":1704,"v":55},{"k":1711,"v":40},{"k":1717,"v":52},{"k":1726,"v":36},{"k":1735,"v":34},{"k":1743,"v":43},{"k":1750,"v":32},{"k":1758,"v":30},{"k":1765,"v":37},{"k":1770,"v":-114},{"k":2,"v":-101},{"k":12,"v":-30},{"k":20,"v":-35},{"k":31,"v":-93},{"k":39,"v":-90},{"k":48,"v":-32},{"k":58,"v":-40},{"k":66,"v":-28},{"k":76,"v":-34},{"k":83,"v":-36},{"k":90,"v":-41},{"k":103,"v":-64},{"k":114,"v":-30},{"k":123,"v":-36},{"k":131,"v":-28},{"k":143,"v":-40},{"k":150,"v":-26},{"k":162,"v":-57},{"k":171,"v":-30},{"k":181,"v":-49},{"k":189,"v":-38},{"k":197.6,"v":-59},{"k":206,"v":-30},{"k":216,"v":-34},{"k":224,"v":-57},{"k":234,"v":-36},{"k":243,"v":-30},{"k":250,"v":-38},{"k":262,"v":-53},{"k":272,"v":-38},{"k":281,"v":-40},{"k":290,"v":-68},{"k":299,"v":-52},{"k":306,"v":-77},{"k":314,"v":-40},{"k":323,"v":-44},{"k":335,"v":-36},{"k":342,"v":-91},{"k":350,"v":-30},{"k":360,"v":-46},{"k":373,"v":-88},{"k":383,"v":-40},{"k":396,"v":-44},{"k":405,"v":-30},{"k":414,"v":-36},{"k":422,"v":-62},{"k":434,"v":-26},{"k":447,"v":-32},{"k":455,"v":-38},{"k":463,"v":-44},{"k":472,"v":-40},{"k":480,"v":-56},{"k":489,"v":-44},{"k":496,"v":-62},{"k":504,"v":-38},{"k":514,"v":-30},{"k":525,"v":-34},{"k":534,"v":-44},{"k":543,"v":-84},{"k":554,"v":-50},{"k":564,"v":-60},{"k":578,"v":-44},{"k":584,"v":-58},{"k":595,"v":-40},{"k":606,"v":-50},{"k":615,"v":-34},{"k":624,"v":-40},{"k":634,"v":-50},{"k":645,"v":-30},{"k":655,"v":-36},{"k":664,"v":-78},{"k":676,"v":-44},{"k":688,"v":-58},{"k":698,"v":-40},{"k":708,"v":-60},{"k":716,"v":-127},{"k":728,"v":-44},{"k":738,"v":-50},{"k":746,"v":-60},{"k":755,"v":-88},{"k":765,"v":-101},{"k":776,"v":-58},{"k":788,"v":-40},{"k":795,"v":-44},{"k":810,"v":-36},{"k":826,"v":-40},{"k":836,"v":-56},{"k":846,"v":-92},{"k":852,"v":-70},{"k":856,"v":-98},{"k":866,"v":-40},{"k":878,"v":-32},{"k":890,"v":-38},{"k":905,"v":-36},{"k":925,"v":-30},{"k":935,"v":-66},{"k":946,"v":-34},{"k":957,"v":-44},{"k":973,"v":-87},{"k":982,"v":-50},{"k":992,"v":-44},{"k":1002,"v":-52},{"k":1012,"v":-62},{"k":1022,"v":-40},{"k":1032,"v":-54},{"k":1040,"v":-40},{"k":1052,"v":-46},{"k":1070,"v":-99},{"k":1080,"v":-60},{"k":1092,"v":-38},{"k":1108,"v":-44},{"k":1122,"v":-70},{"k":1132,"v":-56},{"k":1144,"v":-48},{"k":1155,"v":-44},{"k":1165,"v":-70},{"k":1176,"v":-52},{"k":1186,"v":-34},{"k":1196,"v":-59},{"k":1203,"v":-44},{"k":1213,"v":-40},{"k":1225,"v":-110},{"k":1238,"v":-50},{"k":1247,"v":-44},{"k":1257,"v":-40},{"k":1268,"v":-34},{"k":1282,"v":-47},{"k":1296,"v":-40},{"k":1304,"v":-30},{"k":1316,"v":-120},{"k":1320,"v":-100},{"k":1336,"v":-30},{"k":1350,"v":-50},{"k":1358,"v":-71},{"k":1376,"v":-30},{"k":1392,"v":-40},{"k":1408,"v":-32},{"k":1436,"v":-56},{"k":1450,"v":-36},{"k":1460,"v":-38},{"k":1475,"v":-34},{"k":1496,"v":-30},{"k":1510,"v":-55},{"k":1522,"v":-44},{"k":1541,"v":-32},{"k":1556,"v":-50},{"k":1568,"v":-76},{"k":1574,"v":-50},{"k":1586,"v":-71},{"k":1600,"v":-30},{"k":1618,"v":-50},{"k":1627,"v":-69},{"k":1636,"v":-50},{"k":1648,"v":-56},{"k":1664,"v":-30},{"k":1676,"v":-40},{"k":1687,"v":-61},{"k":1700,"v":-30},{"k":1727,"v":-59},{"k":1745,"v":-36},{"k":1756,"v":-44}],
"ticks":[{"k":0},{"k":10},{"k":20},{"k":30},{"k":40},{"k":50},{"k":60},{"k":70},{"k":80},{"k":90},{"k":110},{"k":120},{"k":130},{"k":140},{"k":150},{"k":160},{"k":170},{"k":180},{"k":190},{"k":210},{"k":220},{"k":230},{"k":240},{"k":250},{"k":260},{"k":270},{"k":280},{"k":290},{"k":310},{"k":320},{"k":330},{"k":340},{"k":350},{"k":360},{"k":370},{"k":380},{"k":390},{"k":410},{"k":420},{"k":430},{"k":440},{"k":450},{"k":460},{"k":470},{"k":480},{"k":490},{"k":510},{"k":520},{"k":530},{"k":540},{"k":550},{"k":560},{"k":570},{"k":580},{"k":590},{"k":610},{"k":620},{"k":630},{"k":640},{"k":650},{"k":660},{"k":670},{"k":680},{"k":690},{"k":710},{"k":720},{"k":730},{"k":740},{"k":750},{"k":760},{"k":770},{"k":780},{"k":790},{"k":810},{"k":820},{"k":830},{"k":840},{"k":850},{"k":860},{"k":870},{"k":880},{"k":890},{"k":910},{"k":920},{"k":930},{"k":940},{"k":950},{"k":960},{"k":970},{"k":980},{"k":990},{"k":1010},{"k":1020},{"k":1030},{"k":1040},{"k":1050},{"k":1060},{"k":1070},{"k":1080},{"k":1090},{"k":1110},{"k":1120},{"k":1130},{"k":1140},{"k":1150},{"k":1160},{"k":1170},{"k":1180},{"k":1190},{"k":1210},{"k":1220},{"k":1230},{"k":1240},{"k":1250},{"k":1260},{"k":1270},{"k":1280},{"k":1290},{"k":1310},{"k":1320},{"k":1330},{"k":1340},{"k":1350},{"k":1360},{"k":1370},{"k":1380},{"k":1390},{"k":1410},{"k":1420},{"k":1430},{"k":1440},{"k":1450},{"k":1460},{"k":1470},{"k":1480},{"k":1490},{"k":1510},{"k":1520},{"k":1530},{"k":1540},{"k":1550},{"k":1560},{"k":1570},{"k":1580},{"k":1590},{"k":1610},{"k":1620},{"k":1630},{"k":1640},{"k":1650},{"k":1660},{"k":1670},{"k":1680},{"k":1690},{"k":1710},{"k":1720},{"k":1730},{"k":1740},{"k":1750},{"k":1760},{"k":1770}],
"major":[{"k":100,"t":"100 kb"},{"k":200,"t":"200 kb"},{"k":300,"t":"300 kb"},{"k":400,"t":"400 kb"},{"k":500,"t":"500 kb"},{"k":600,"t":"600 kb"},{"k":700,"t":"700 kb"},{"k":800,"t":"800 kb"},{"k":900,"t":"900 kb"},{"k":1000,"t":"1000 kb"},{"k":1100,"t":"1100 kb"},{"k":1200,"t":"1200 kb"},{"k":1300,"t":"1300 kb"},{"k":1400,"t":"1400 kb"},{"k":1500,"t":"1500 kb"},{"k":1600,"t":"1600 kb"},{"k":1700,"t":"1700 kb"}]
},
"layer":[
{"data":{"name":"ring"},"mark":{"type":"arc","radius":975,"radius2":927,"stroke":"#000000","strokeWidth":1},"encoding":{"theta":{"field":"a","type":"quantitative","scale":{"domain":[0,1778],"range":[0,6.283185]}},"theta2":{"field":"b"},"color":{"field":"c","type":"nominal","legend":null,"scale":{"domain":["l","g","d","k","b","m","t"],"range":["#f0f0f0","#bdbdbd","#636363","#000000","#0a3d7f","#0868ac","#4eb3d3"]}}}},
{"data":{"name":"ticks"},"mark":{"type":"arc","radius":981,"radius2":975,"stroke":"#000000","strokeWidth":1.3,"fillOpacity":0},"encoding":{"theta":{"field":"k","type":"quantitative","scale":{"domain":[0,1778],"range":[0,6.283185]}},"theta2":{"field":"k"}}},
{"data":{"name":"major"},"mark":{"type":"arc","radius":990,"radius2":975,"stroke":"#000000","strokeWidth":1.6,"fillOpacity":0},"encoding":{"theta":{"field":"k","type":"quantitative","scale":{"domain":[0,1778],"range":[0,6.283185]}},"theta2":{"field":"k"}}},
{"data":{"name":"geneOut"},"mark":{"type":"arc","radius":907,"radius2":888.5},"encoding":{"theta":{"field":"a","type":"quantitative","scale":{"domain":[0,1778],"range":[0,6.283185]}},"theta2":{"field":"b"},"fill":{"condition":{"test":"datum.c=='r'","value":"#fb6a4a"},"value":"#a5a5a5"}}},
{"data":{"name":"geneIn"},"mark":{"type":"arc","radius":888,"radius2":869.5},"encoding":{"theta":{"field":"a","type":"quantitative","scale":{"domain":[0,1778],"range":[0,6.283185]}},"theta2":{"field":"b"},"fill":{"condition":{"test":"datum.c=='r'","value":"#fb6a4a"},"value":"#a5a5a5"}}},
{"data":{"name":"band"},"mark":{"type":"arc","radius":853,"radius2":815},"encoding":{"theta":{"field":"a","type":"quantitative","scale":{"domain":[0,1778],"range":[0,6.283185]}},"theta2":{"field":"b"},"color":{"field":"c","type":"nominal","legend":null,"scale":{"domain":["l","g","d","k","b","m","t"],"range":["#f0f0f0","#bdbdbd","#636363","#000000","#0a3d7f","#0868ac","#4eb3d3"]}}}},
{"data":{"name":"f3"},"mark":{"type":"arc","strokeWidth":1},"encoding":{"theta":{"field":"a","type":"quantitative","scale":{"domain":[0,1778],"range":[0,6.283185]}},"theta2":{"field":"b"},"radius":{"field":"v","type":"quantitative","scale":{"domain":[-200,200],"range":[519,799]}},"radius2":{"datum":0},"fill":{"condition":{"test":"datum.v<0","value":"#fc9272"},"value":"#9ecae1"},"stroke":{"condition":{"test":"datum.v<0","value":"#fc9272"},"value":"#9ecae1"}}},
{"data":{"name":"s3"},"mark":{"type":"arc","strokeWidth":10,"fillOpacity":0},"encoding":{"theta":{"field":"k","type":"quantitative","scale":{"domain":[0,1778],"range":[0,6.283185]}},"theta2":{"field":"k"},"radius":{"field":"v","type":"quantitative","scale":{"domain":[-200,200],"range":[559,759]}},"radius2":{"datum":0},"stroke":{"condition":{"test":"datum.v<0","value":"#fc9272"},"value":"#9ecae1"}}},
{"data":{"name":"s3"},"mark":{"type":"arc","strokeWidth":6,"fillOpacity":0},"encoding":{"theta":{"field":"k","type":"quantitative","scale":{"domain":[0,1778],"range":[0,6.283185]}},"theta2":{"field":"k"},"radius":{"field":"v","type":"quantitative","scale":{"domain":[-200,200],"range":[509,809]}},"radius2":{"datum":0},"stroke":{"condition":{"test":"datum.v<0","value":"#fc9272"},"value":"#9ecae1"}}},
{"data":{"name":"s3"},"mark":{"type":"arc","strokeWidth":2,"fillOpacity":0},"encoding":{"theta":{"field":"k","type":"quantitative","scale":{"domain":[0,1778],"range":[0,6.283185]}},"theta2":{"field":"k"},"radius":{"field":"v","type":"quantitative","scale":{"domain":[-200,200],"range":[459,859]}},"radius2":{"datum":0},"stroke":{"condition":{"test":"datum.v<0","value":"#fb6a4a"},"value":"#6baed6"}}},
{"data":{"name":"s3k"},"mark":{"type":"arc","strokeWidth":2,"fillOpacity":0,"stroke":"#000000"},"encoding":{"theta":{"field":"k","type":"quantitative","scale":{"domain":[0,1778],"range":[0,6.283185]}},"theta2":{"field":"k"},"radius":{"field":"v","type":"quantitative","scale":{"domain":[-200,200],"range":[459,859]}},"radius2":{"datum":0}}},
{"data":{"name":"f4"},"mark":{"type":"arc","strokeWidth":1},"encoding":{"theta":{"field":"a","type":"quantitative","scale":{"domain":[0,1778],"range":[0,6.283185]}},"theta2":{"field":"b"},"radius":{"field":"v","type":"quantitative","scale":{"domain":[-200,200],"range":[291,611]}},"radius2":{"datum":0},"fill":{"condition":{"test":"datum.v<0","value":"#a1d99b"},"value":"#9ecae1"},"stroke":{"condition":{"test":"datum.v<0","value":"#a1d99b"},"value":"#9ecae1"}}},
{"data":{"name":"s4"},"mark":{"type":"arc","strokeWidth":6,"fillOpacity":0},"encoding":{"theta":{"field":"k","type":"quantitative","scale":{"domain":[0,1778],"range":[0,6.283185]}},"theta2":{"field":"k"},"radius":{"field":"v","type":"quantitative","scale":{"domain":[-200,200],"range":[361,541]}},"radius2":{"datum":0},"stroke":{"condition":{"test":"datum.v<0","value":"#a1d99b"},"value":"#9ecae1"}}},
{"data":{"name":"s4"},"mark":{"type":"arc","strokeWidth":1.6,"fillOpacity":0},"encoding":{"theta":{"field":"k","type":"quantitative","scale":{"domain":[0,1778],"range":[0,6.283185]}},"theta2":{"field":"k"},"radius":{"field":"v","type":"quantitative","scale":{"domain":[-200,200],"range":[251,651]}},"radius2":{"datum":0},"stroke":{"condition":{"test":"datum.v<0","value":"#74c476"},"value":"#6baed6"}}},
{"data":{"name":"major"},"transform":[{"filter":"datum.k<889"}],"mark":{"type":"text","radius":997,"align":"left","baseline":"middle","fontSize":45,"font":"Liberation Sans","color":"#000000"},"encoding":{"theta":{"field":"k","type":"quantitative","scale":{"domain":[0,1778],"range":[0,6.283185]}},"angle":{"field":"k","type":"quantitative","scale":{"domain":[0,1778],"range":[-90,270]}},"text":{"field":"t"}}},
{"data":{"name":"major"},"transform":[{"filter":"datum.k>=889"}],"mark":{"type":"text","radius":997,"align":"right","baseline":"middle","fontSize":45,"font":"Liberation Sans","color":"#000000"},"encoding":{"theta":{"field":"k","type":"quantitative","scale":{"domain":[0,1778],"range":[0,6.283185]}},"angle":{"field":"k","type":"quantitative","scale":{"domain":[0,1778],"range":[90,450]}},"text":{"field":"t"}}}
],
"resolve":{"scale":{"radius":"independent","angle":"independent"}}}
